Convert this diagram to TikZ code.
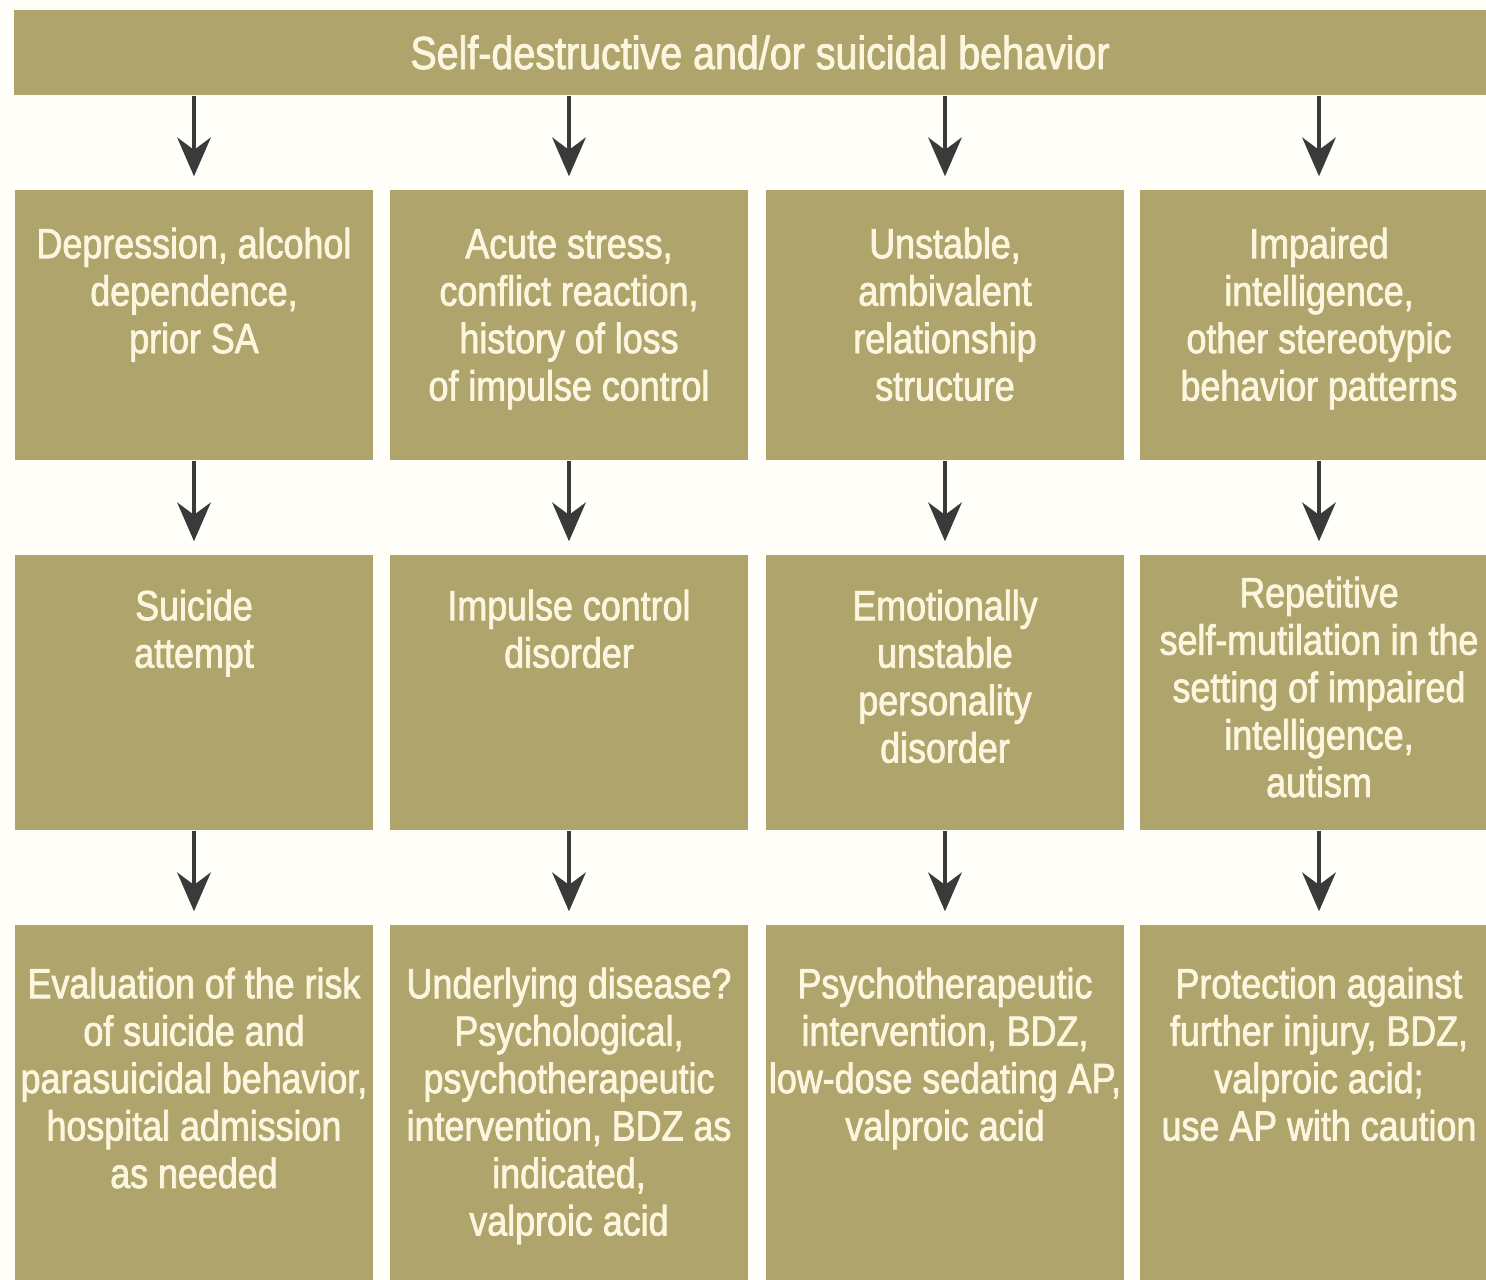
\documentclass[tikz,border=0pt]{standalone}
\usepackage{fontspec}
\setmainfont{Liberation Sans}[FakeStretch=0.85,FakeBold=1.8]
\usetikzlibrary{arrows.meta}

\definecolor{boxtan}{HTML}{AFA46C}
\definecolor{boxtxt}{HTML}{FCF6DE}
\definecolor{arrowgray}{HTML}{3A3A3A}
\definecolor{paper}{HTML}{FFFEF8}

% top-aligned text of a box: height, space above, lines
\newcommand{\boxtext}[3]{\parbox[c][#1][t]{3.58cm}{\centering
  \fontsize{12}{13.5}\selectfont\vspace*{#2}\strut#3\par}}

\begin{document}
\begin{tikzpicture}[
    bar/.style={rectangle, fill=boxtan, text=boxtxt, inner sep=0pt,
                minimum width=14.92cm, minimum height=0.85cm,
                font=\fontsize{13.2}{15}\selectfont},
    cell/.style={rectangle, fill=boxtan, text=boxtxt, inner sep=0pt},
    flow/.style={-{Stealth[length=11pt, width=9.5pt, inset=3.5pt]},
                 line width=1.4pt, arrowgray, shorten >=0.13cm}
]
\useasboundingbox[fill=paper] (0,0) rectangle (14.86,-12.80);

\node[bar] (top) at (7.60,-0.525) {Self-destructive and/or suicidal behavior};

% causes
\node[cell] (a1) at (1.94, -3.25) {\boxtext{2.70cm}{0.35cm}{Depression, alcohol\\dependence,\\prior SA}};
\node[cell] (a2) at (5.69, -3.25) {\boxtext{2.70cm}{0.35cm}{Acute stress,\\conflict reaction,\\history of loss\\of impulse control}};
\node[cell] (a3) at (9.45, -3.25) {\boxtext{2.70cm}{0.35cm}{Unstable,\\ambivalent\\relationship\\structure}};
\node[cell] (a4) at (13.19, -3.25) {\boxtext{2.70cm}{0.35cm}{Impaired\\intelligence,\\other stereotypic\\behavior patterns}};

% diagnoses
\node[cell] (b1) at (1.94, -6.925) {\boxtext{2.75cm}{0.32cm}{Suicide\\attempt}};
\node[cell] (b2) at (5.69, -6.925) {\boxtext{2.75cm}{0.32cm}{Impulse control\\disorder}};
\node[cell] (b3) at (9.45, -6.925) {\boxtext{2.75cm}{0.32cm}{Emotionally\\unstable\\personality\\disorder}};
\node[cell] (b4) at (13.19, -6.925) {\boxtext{2.75cm}{0.19cm}{Repetitive\\self-mutilation in the\\setting of impaired\\intelligence,\\autism}};

% management
\node[cell] (c1) at (1.94, -11.075) {\boxtext{3.65cm}{0.40cm}{Evaluation of the risk\\of suicide and\\parasuicidal behavior,\\hospital admission\\as needed}};
\node[cell] (c2) at (5.69, -11.075) {\boxtext{3.65cm}{0.40cm}{Underlying disease?\\Psychological,\\psychotherapeutic\\intervention, BDZ as\\indicated,\\valproic acid}};
\node[cell] (c3) at (9.45, -11.075) {\boxtext{3.65cm}{0.40cm}{Psychotherapeutic\\intervention, BDZ,\\low-dose sedating AP,\\valproic acid}};
\node[cell] (c4) at (13.19, -11.075) {\boxtext{3.65cm}{0.40cm}{Protection against\\further injury, BDZ,\\valproic acid;\\use AP with caution}};

\foreach \i in {1,2,3,4} {
  \draw[flow] (top.south -| a\i) -- (a\i);
  \draw[flow] (a\i) -- (b\i);
  \draw[flow] (b\i) -- (c\i);
}
\end{tikzpicture}
\end{document}
